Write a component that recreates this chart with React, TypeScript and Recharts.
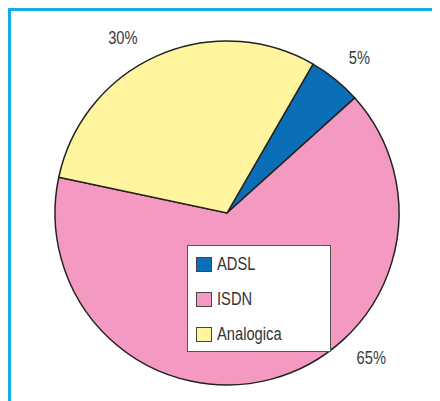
import { PieChart, Pie, Cell, Legend } from 'recharts';

// dati della torta
const categories = ['ADSL', 'ISDN', 'Analogica'];
const shares = [5, 65, 30];
const sliceColors = ['#0a6fb6', '#f49ac2', '#fff59f'];

// angoli (gradi) a cui stanno le etichette percentuali
const LABEL_ANGLES = [49.5, -45, 120.7];

const data = categories.map((name, i) => ({ name, value: shares[i] }));

const FONT = "'Liberation Sans', Arial, sans-serif";
const NARROW = 0.84; // il font originale è un Helvetica condensato
const RAD = Math.PI / 180;

function PercentLabel(props: any) {
  const { cx, cy, outerRadius, index, value } = props;
  const r = outerRadius + 32;
  const a = LABEL_ANGLES[index];
  const x = cx + r * Math.cos(a * RAD);
  const y = cy - r * Math.sin(a * RAD);
  return (
    <text
      transform={`translate(${x},${y}) scale(${NARROW},1)`}
      fill="#3a3a3a" fontSize={17.5} fontFamily={FONT} textAnchor="middle" dominantBaseline="central"
    >
      {value}%
    </text>
  );
}

function LegendBox() {
  // ordine originale delle categorie, non quello ordinato di recharts
  return (
    <div style={{
      width: 144, height: 107, background: '#fff', border: '1px solid #555',
      boxSizing: 'border-box', paddingTop: 1, paddingLeft: 8, fontFamily: FONT,
    }}>
      {categories.map((name, i) => (
        <div key={`leg-${i}`} style={{ display: 'flex', alignItems: 'center', height: 35 }}>
          <span style={{
            display: 'inline-block', width: 16, height: 15, background: sliceColors[i],
            border: '1.5px solid #444', boxSizing: 'border-box', marginRight: 5, flexShrink: 0,
          }} />
          <span style={{
            fontSize: 17.5, color: '#333', display: 'inline-block',
            transform: `scaleX(${NARROW})`, transformOrigin: 'left center', whiteSpace: 'nowrap',
          }}>{name}</span>
        </div>
      ))}
    </div>
  );
}

export default function App() {
  return (
    <div style={{
      width: 432, height: 393, position: 'relative', boxSizing: 'border-box',
      borderLeft: '3px solid #13ade6', borderTop: '3px solid #13ade6',
    }}>
      <div style={{ position: 'absolute', left: -3, top: -3 }}>
        <PieChart width={432} height={393} margin={{ top: 0, right: 0, bottom: 0, left: 0 }}>
          <Pie
            data={data}
            dataKey="value"
            nameKey="name"
            cx={219}
            cy={205}
            outerRadius={172}
            startAngle={60}
            endAngle={-300}
            stroke="#222"
            strokeWidth={1.5}
            label={PercentLabel}
            labelLine={false}
            isAnimationActive={false}
          >
            {data.map((entry, index) => (
              <Cell key={`cell-${index}`} fill={sliceColors[index]} />
            ))}
          </Pie>
          <Legend
            content={LegendBox}
            wrapperStyle={{ position: 'absolute', left: 179, top: 237, width: 144, height: 107 }}
          />
        </PieChart>
      </div>
    </div>
  );
}
